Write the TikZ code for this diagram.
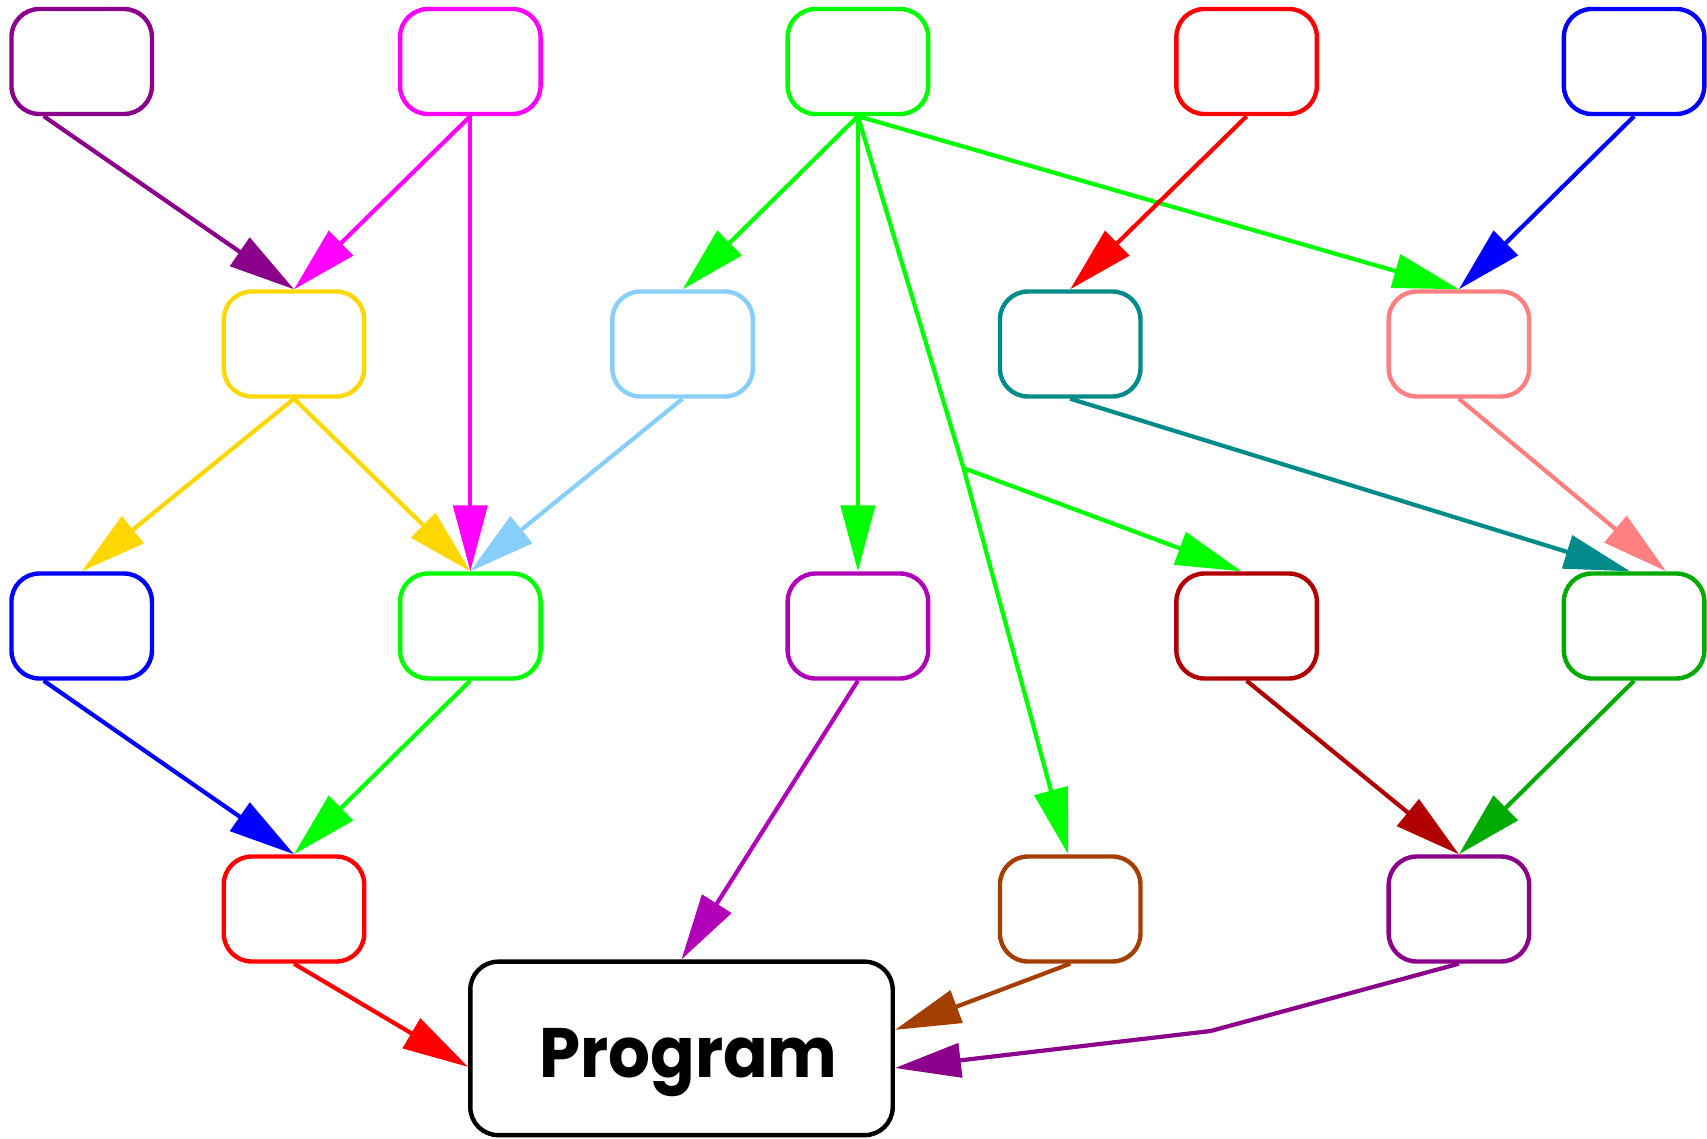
\documentclass[tikz,border=0pt]{standalone}
\usepackage{fontspec}
\newfontfamily\progfont{Poppins}
\usetikzlibrary{arrows.meta,calc}
\definecolor{cPurple}{HTML}{8B008B}
\definecolor{cMagenta}{HTML}{FF00FF}
\definecolor{cGreen}{HTML}{00FF00}
\definecolor{cRed}{HTML}{FF0000}
\definecolor{cBlue}{HTML}{0000FF}
\definecolor{cGold}{HTML}{FFD700}
\definecolor{cSky}{HTML}{87CEFA}
\definecolor{cTeal}{HTML}{008B8B}
\definecolor{cCoral}{HTML}{FF8080}
\definecolor{cViolet}{HTML}{B000B8}
\definecolor{cDarkRed}{HTML}{B00000}
\definecolor{cMidGreen}{HTML}{00AA00}
\definecolor{cBrown}{HTML}{A33F00}
\tikzset{
  box/.style={draw=#1, line width=4.4pt, rounded corners=28pt,
    minimum width=140.5pt, minimum height=105pt, inner sep=0pt},
  conn/.style={draw=#1, line width=4.2pt,
    -{Triangle[length=66pt,width=34pt]}}
}
\begin{document}
\begin{tikzpicture}[x=1pt,y=-1pt]
\useasboundingbox (0,0) rectangle (1707,1139);
% row 1
\node[box=cPurple]  (A1) at (81.7,61.5) {};
\node[box=cMagenta] (A2) at (470.3,61.5) {};
\node[box=cGreen]   (A3) at (857.9,61.5) {};
\node[box=cRed]     (A4) at (1246.6,61.5) {};
\node[box=cBlue]    (A5) at (1634.1,61.5) {};
% row 2
\node[box=cGold]  (B1) at (294,344) {};
\node[box=cSky]   (B2) at (682.6,344) {};
\node[box=cTeal]  (B3) at (1070.2,344) {};
\node[box=cCoral] (B4) at (1458.9,344) {};
% row 3
\node[box=cBlue]      (C1) at (81.7,626) {};
\node[box=cGreen]     (C2) at (470.3,626) {};
\node[box=cViolet]    (C3) at (857.9,626) {};
\node[box=cDarkRed]   (C4) at (1246.6,626) {};
\node[box=cMidGreen]  (C5) at (1634.1,626) {};
% row 4
\node[box=cRed]    (D1) at (294,909) {};
\node[box=cBrown]  (D2) at (1070.2,909) {};
\node[box=cPurple] (D3) at (1458.9,909) {};
% program
\node[draw=black, line width=4.4pt, rounded corners=28pt, minimum width=422.4pt,
      minimum height=173.5pt, inner sep=0pt, text depth=0pt,
      font=\progfont\bfseries\fontsize{70}{80}\selectfont] (P) at (681.5,1048.4)
      {\raisebox{-9pt}{\kern14pt\scalebox{0.94}[1]{Program}}};
% bends
\coordinate (gbend) at (963.5,468.1);
\coordinate (pbend) at (1210.6,1031);
% edges
\draw[conn=cPurple] ($(A1.south)+(-38pt,0pt)$) -- (B1.north);
\draw[conn=cMagenta] (A2.south) -- (B1.north);
\draw[conn=cMagenta] (A2.south) -- (C2.north);
\draw[conn=cGreen] (A3.south) -- (B2.north);
\draw[conn=cGreen] (A3.south) -- (C3.north);
\draw[conn=cGreen] (A3.south) -- (B4.north);
\draw[conn=cGreen] (A3.south) -- (gbend) -- ($(D2.north)+(-2pt,0pt)$);
\draw[conn=cGreen] (gbend) -- ($(C4.north)+(-5pt,0pt)$);
\draw[conn=cRed] (A4.south) -- (B3.north);
\draw[conn=cBlue] (A5.south) -- (B4.north);
\draw[conn=cGold] (B1.south) -- (C1.north);
\draw[conn=cGold] (B1.south) -- (C2.north);
\draw[conn=cSky] (B2.south) -- (C2.north);
\draw[conn=cTeal] (B3.south) -- ($(C5.north)+(-4pt,0pt)$);
\draw[conn=cCoral] (B4.south) -- ($(C5.north)+(32pt,0pt)$);
\draw[conn=cBlue] ($(C1.south)+(-38pt,0pt)$) -- (D1.north);
\draw[conn=cGreen] (C2.south) -- (D1.north);
\draw[conn=cViolet] (C3.south) -- (P.north);
\draw[conn=cDarkRed] (C4.south) -- (D3.north);
\draw[conn=cMidGreen] (C5.south) -- (D3.north);
\draw[conn=cRed] (D1.south) -- ($(P.west)+(0pt,-18.5pt)$);
\draw[conn=cBrown] (D2.south) -- ($(P.east)+(0pt,18.5pt)$);
\draw[conn=cPurple] (D3.south) -- (pbend) -- ($(P.east)+(0pt,-19.6pt)$);
\end{tikzpicture}
\end{document}
